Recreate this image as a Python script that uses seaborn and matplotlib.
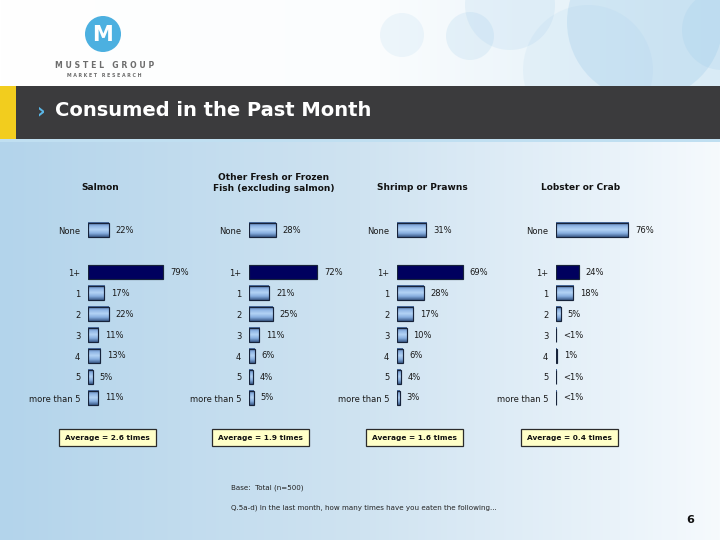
import numpy as np
import pandas as pd
import matplotlib
matplotlib.use("Agg")
import matplotlib.pyplot as plt
from matplotlib.colors import LinearSegmentedColormap, to_rgb
from matplotlib.patches import Rectangle, Circle
import seaborn as sns

# ---------------------------------------------
# Data
# ---------------------------------------------
freq_order = ["None", " ", "1+", "1", "2", "3", "4", "5", "more than 5"]
freq_cats = ["None", "1+", "1", "2", "3", "4", "5", "more than 5"]

panel_titles = ["Salmon", "Other Fresh or Frozen\nFish (excluding salmon)",
                "Shrimp or Prawns", "Lobster or Crab"]
salmon_pct = [22, 79, 17, 22, 11, 13, 5, 11]
other_fish_pct = [28, 72, 21, 25, 11, 6, 4, 5]
shrimp_pct = [31, 69, 28, 17, 10, 6, 4, 3]
lobster_pct = [76, 24, 18, 5, 0.4, 1, 0.4, 0.4]   # "<1%" drawn as a sliver
lobster_labels = ["76%", "24%", "18%", "5%", "<1%", "1%", "<1%", "<1%"]
averages = [2.6, 1.9, 1.6, 0.4]

all_pct = [salmon_pct, other_fish_pct, shrimp_pct, lobster_pct]
all_labels = [[f"{v}%" for v in salmon_pct],
              [f"{v}%" for v in other_fish_pct],
              [f"{v}%" for v in shrimp_pct],
              lobster_labels]

# ---------------------------------------------
# Layout (pixels on a 720x540 slide)
# ---------------------------------------------
W, H = 720, 540
bar_x0 = [88, 249, 397, 556]
title_x = [100, 274, 422, 581]
box_x = [59, 212, 366, 521]
px_per_pct = 0.95

sns.set_style("white")
plt.rcParams["font.family"] = ["DejaVu Sans"]

fig = plt.figure(figsize=(7.2, 5.4), dpi=100)

bg = fig.add_axes([0, 0, 1, 1])
bg.set_xlim(0, W)
bg.set_ylim(H, 0)
bg.axis("off")


def hgrad(xs, cols, n=720):
    xx = np.linspace(0, W, n)
    rgb = np.array([to_rgb(c) for c in cols])
    img = np.stack([np.interp(xx, xs, rgb[:, k]) for k in range(3)], axis=-1)
    return img[np.newaxis, :, :]


# header (white -> pale blue with bubbles)
bg.imshow(hgrad([0, 380, 720], ["#ffffff", "#fbfdfe", "#d9ebf6"]),
          extent=(0, W, 86, 0), aspect="auto", zorder=0)
for cx, cy, r, a in [(510, 5, 45, 0.14), (470, 36, 24, 0.16), (402, 35, 22, 0.12),
                     (588, 70, 65, 0.10), (645, 22, 78, 0.24), (722, 30, 40, 0.16)]:
    bg.add_patch(Circle((cx, cy), r, color="#8fc3e6", alpha=a, lw=0, zorder=1))

# content background gradient
bg.imshow(hgrad([0, 360, 620, 720], ["#b3d4eb", "#cfe3f1", "#eaf3fa", "#f6fafd"]),
          extent=(0, W, H, 139), aspect="auto", zorder=2)

# title bar
bg.add_patch(Rectangle((0, 86), W, 53, color="#3b3b3d", lw=0, zorder=3))
bg.add_patch(Rectangle((0, 86), 16, 53, color="#f2cd1e", lw=0, zorder=3))
bg.add_patch(Rectangle((0, 139), W, 3, color="#c0dff1", lw=0, zorder=3))
bg.text(37, 111, "›", color="#5ab6e6", fontsize=15, fontweight="bold",
        ha="left", va="center", zorder=4)
bg.text(55, 111, "Consumed in the Past Month", color="white", fontsize=14,
        fontweight="bold", ha="left", va="center", zorder=4)

# logo
bg.add_patch(Circle((103, 34), 18, color="#4cb0e0", lw=0, zorder=4))
bg.text(103, 35, "M", color="white", fontsize=15, fontweight="bold",
        ha="center", va="center", zorder=5)
bg.text(105, 65, "M U S T E L   G R O U P", color="#6d6d6d", fontsize=5.6,
        fontweight="bold", ha="center", va="center", zorder=5)
bg.text(104, 75.5, "M A R K E T   R E S E A R C H", color="#6d6d6d", fontsize=3.4,
        fontweight="bold", ha="center", va="center", zorder=5)

# panel titles
for tx, title in zip(title_x, panel_titles):
    ty = 183 if "\n" in title else 188
    bg.text(tx, ty, title, fontsize=6.5, fontweight="bold", color="#111111",
            ha="center", va="center", linespacing=1.35, zorder=5)

# average boxes
for bx, avg in zip(box_x, averages):
    bg.add_patch(Rectangle((bx, 429), 97, 17, facecolor="#ffffc8",
                           edgecolor="#2b2b2b", lw=0.9, zorder=5))
    bg.text(bx + 48.5, 437.8, f"Average = {avg} times", fontsize=5.3,
            fontweight="bold", color="#111111", ha="center", va="center", zorder=6)

# footnotes
bg.text(231, 488, "Base:  Total (n=500)", fontsize=5.1, color="#222222",
        ha="left", va="center", zorder=5)
bg.text(231, 508, "Q.5a-d) In the last month, how many times have you eaten the following...",
        fontsize=5.1, color="#222222", ha="left", va="center", zorder=5)
bg.text(690, 520, "6", fontsize=8, fontweight="bold", color="#111111",
        ha="center", va="center", zorder=5)

# ---------------------------------------------
# Bar panels
# ---------------------------------------------
bar_cmap = LinearSegmentedColormap.from_list(
    "bar", ["#45669a", "#8fb5e4", "#b3d3f5", "#88afe0", "#3d5d8c"])
palette = {c: ("#00005e" if c == "1+" else "#9cc0ea") for c in freq_cats}

top_px, slot_px = 219.5, 21
for x0, pct, labels in zip(bar_x0, all_pct, all_labels):
    width_px = 100
    rect = [x0 / W, 1 - (top_px + slot_px * 9) / H, width_px / W, slot_px * 9 / H]
    ax = fig.add_axes(rect)
    ax.patch.set_alpha(0)

    df = pd.DataFrame({"freq": freq_cats, "pct": pct})
    sns.barplot(data=df, x="pct", y="freq", order=freq_order, hue="freq",
                hue_order=freq_cats, palette=palette, legend=False, width=0.7,
                edgecolor="#17233a", linewidth=0.85, saturation=1, ax=ax)

    for p in ax.patches:
        idx = int(round(p.get_y() + p.get_height() / 2))
        if freq_order[idx] == "1+":
            continue
        x, y, w, h = p.get_x(), p.get_y(), p.get_width(), p.get_height()
        ax.imshow(np.linspace(0, 1, 40).reshape(-1, 1), cmap=bar_cmap,
                  extent=(x, x + w, y + h, y), aspect="auto", zorder=0.9)
        p.set_facecolor("none")

    for cat, v, lab in zip(freq_cats, pct, labels):
        ax.annotate(lab, (v, freq_order.index(cat)), xytext=(5, 0),
                    textcoords="offset points", ha="left", va="center",
                    fontsize=6, color="#1a1a1a")

    ax.set_xlim(0, width_px / px_per_pct)
    ax.set_ylim(len(freq_order) - 0.5, -0.5)
    ax.set_xlabel("")
    ax.set_ylabel("")
    ax.xaxis.set_visible(False)
    ax.tick_params(axis="y", length=0, pad=5.5, labelsize=6, labelcolor="#1a1a1a")
    sns.despine(ax=ax, left=True, bottom=True)

fig.savefig("out.png", dpi=100)
